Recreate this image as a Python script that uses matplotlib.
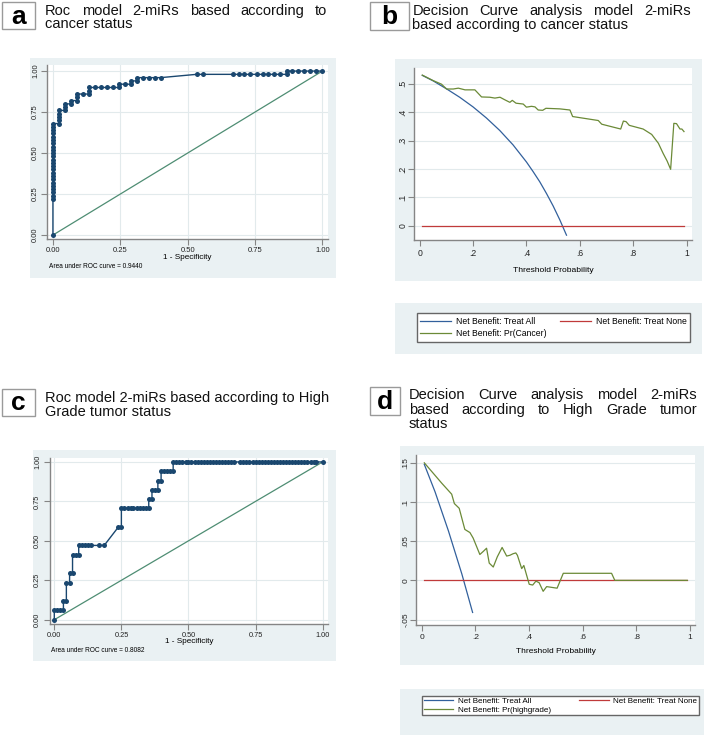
import matplotlib.pyplot as plt
from matplotlib.patches import Rectangle

plt.rcParams['font.family'] = ['Liberation Sans', 'DejaVu Sans']

# ---- panel a: ROC, cancer status ----
roc_a_fpr = [0.0,
             0.0, 0.0, 0.0, 0.0, 0.0, 0.0, 0.0, 0.0, 0.0, 0.0, 0.0, 0.0,
             0.0, 0.0, 0.0, 0.0, 0.0, 0.0, 0.0, 0.0, 0.0, 0.0, 0.0, 0.0,
             0.022, 0.022, 0.022, 0.022, 0.022,
             0.044, 0.044, 0.044,
             0.067, 0.067,
             0.089, 0.089, 0.089,
             0.111,
             0.133, 0.133, 0.133,
             0.156, 0.178, 0.200, 0.222,
             0.244, 0.244, 0.267, 0.289, 0.289, 0.311, 0.311,
             0.333, 0.356, 0.378, 0.400,
             0.533, 0.556,
             0.667, 0.689, 0.711, 0.733, 0.756, 0.778, 0.800, 0.822, 0.844, 0.867,
             0.867, 0.889, 0.911, 0.933, 0.956, 0.978, 1.0]
roc_a_tpr = [0.0,
             0.22, 0.24, 0.26, 0.28, 0.30, 0.32, 0.34, 0.36, 0.38, 0.40, 0.42, 0.44,
             0.46, 0.48, 0.50, 0.52, 0.54, 0.56, 0.58, 0.60, 0.62, 0.64, 0.66, 0.68,
             0.68, 0.70, 0.72, 0.74, 0.76,
             0.76, 0.78, 0.80,
             0.80, 0.82,
             0.82, 0.84, 0.86,
             0.86,
             0.86, 0.88, 0.90,
             0.90, 0.90, 0.90, 0.90,
             0.90, 0.92, 0.92, 0.92, 0.94, 0.94, 0.96,
             0.96, 0.96, 0.96, 0.96,
             0.98, 0.98,
             0.98, 0.98, 0.98, 0.98, 0.98, 0.98, 0.98, 0.98, 0.98, 0.98,
             1.0, 1.0, 1.0, 1.0, 1.0, 1.0, 1.0]
auc_a = "0.9440"

# ---- panel c: ROC, high grade ----
roc_c_fpr = [0.0,
             0.0, 0.011, 0.023, 0.034,
             0.034, 0.045,
             0.045, 0.057,
             0.057, 0.068,
             0.068, 0.080, 0.091,
             0.091, 0.102, 0.114, 0.125, 0.136, 0.165, 0.186,
             0.239, 0.250,
             0.250, 0.261, 0.273, 0.284, 0.295, 0.307, 0.318, 0.330, 0.341, 0.352,
             0.352, 0.364,
             0.364, 0.375, 0.386,
             0.386, 0.398,
             0.398, 0.409, 0.420, 0.432, 0.443,
             0.443, 0.455, 0.466, 0.477, 0.489, 0.500, 0.511, 0.523, 0.534, 0.545,
             0.557, 0.568, 0.580, 0.591, 0.602, 0.614, 0.625, 0.636, 0.648, 0.659,
             0.670, 0.693, 0.705, 0.716, 0.727, 0.739, 0.750, 0.761, 0.773, 0.784,
             0.795, 0.807, 0.818, 0.830, 0.841, 0.852, 0.864, 0.875, 0.886, 0.898,
             0.909, 0.920, 0.932, 0.943, 0.955, 0.966, 0.977, 1.0]
roc_c_tpr = [0.0,
             0.059, 0.059, 0.059, 0.059,
             0.118, 0.118,
             0.235, 0.235,
             0.294, 0.294,
             0.412, 0.412, 0.412,
             0.471, 0.471, 0.471, 0.471, 0.471, 0.471, 0.471,
             0.588, 0.588,
             0.706, 0.706, 0.706, 0.706, 0.706, 0.706, 0.706, 0.706, 0.706, 0.706,
             0.765, 0.765,
             0.824, 0.824, 0.824,
             0.882, 0.882,
             0.941, 0.941, 0.941, 0.941, 0.941,
             1.0, 1.0, 1.0, 1.0, 1.0, 1.0, 1.0, 1.0, 1.0, 1.0,
             1.0, 1.0, 1.0, 1.0, 1.0, 1.0, 1.0, 1.0, 1.0, 1.0,
             1.0, 1.0, 1.0, 1.0, 1.0, 1.0, 1.0, 1.0, 1.0, 1.0,
             1.0, 1.0, 1.0, 1.0, 1.0, 1.0, 1.0, 1.0, 1.0, 1.0,
             1.0, 1.0, 1.0, 1.0, 1.0, 1.0, 1.0, 1.0]
auc_c = "0.8082"

# ---- panel b: decision curve, cancer ----
b_all_pt = [0.01, 0.05, 0.10, 0.15, 0.20, 0.25, 0.30, 0.35, 0.40, 0.425, 0.45, 0.475, 0.50, 0.525, 0.55]
b_all_nb = [0.530, 0.511, 0.483, 0.453, 0.419, 0.380, 0.336, 0.285, 0.225, 0.191, 0.155, 0.114, 0.070, 0.021, -0.033]
b_none_pt = [0.01, 0.99]
b_none_nb = [0.0, 0.0]
b_mod_pt = [0.01, 0.05, 0.082, 0.101, 0.126, 0.145, 0.17, 0.207, 0.232, 0.263,
            0.282, 0.301, 0.319, 0.338, 0.347, 0.361, 0.388, 0.40, 0.419, 0.432,
            0.444, 0.461, 0.473, 0.525, 0.563, 0.573, 0.669, 0.682, 0.753, 0.763,
            0.773, 0.785, 0.837, 0.869, 0.894, 0.912, 0.927, 0.94, 0.952, 0.962,
            0.975, 0.982, 0.99]
b_mod_nb = [0.531, 0.512, 0.499, 0.482, 0.482, 0.485, 0.479, 0.479, 0.454, 0.453,
            0.450, 0.453, 0.444, 0.435, 0.442, 0.432, 0.429, 0.418, 0.421, 0.419,
            0.408, 0.407, 0.414, 0.412, 0.408, 0.385, 0.371, 0.358, 0.341, 0.369,
            0.367, 0.354, 0.341, 0.322, 0.291, 0.255, 0.228, 0.199, 0.361, 0.360,
            0.341, 0.341, 0.332]

# ---- panel d: decision curve, high grade ----
d_all_pt = [0.01, 0.05, 0.10, 0.15, 0.19]
d_all_nb = [0.148, 0.113, 0.063, 0.008, -0.041]
d_none_pt = [0.01, 0.99]
d_none_nb = [0.0, 0.0]
d_mod_pt = [0.01, 0.075, 0.112, 0.122, 0.14, 0.161, 0.18, 0.192, 0.217, 0.23,
            0.242, 0.252, 0.267, 0.282, 0.30, 0.317, 0.329, 0.341, 0.351, 0.357,
            0.373, 0.381, 0.401, 0.414, 0.426, 0.438, 0.453, 0.466, 0.505, 0.528,
            0.708, 0.72, 0.99]
d_mod_nb = [0.150, 0.124, 0.110, 0.098, 0.092, 0.065, 0.061, 0.054, 0.033, 0.037,
            0.041, 0.022, 0.017, 0.030, 0.042, 0.031, 0.032, 0.034, 0.035, 0.032,
            0.015, 0.019, -0.005, -0.006, -0.001, -0.003, -0.014, -0.008, -0.010, 0.009,
            0.009, 0.0, 0.0]

roc_ticks = [0, 0.25, 0.5, 0.75, 1]
roc_labels = ["0.00", "0.25", "0.50", "0.75", "1.00"]
dca_xticks = [0, 0.2, 0.4, 0.6, 0.8, 1]
dca_xlabels = ["0", ".2", ".4", ".6", ".8", "1"]
b_yticks = [0, 0.1, 0.2, 0.3, 0.4, 0.5]
b_ylabels = ["0", ".1", ".2", ".3", ".4", ".5"]
d_yticks = [-0.05, 0, 0.05, 0.1, 0.15]
d_ylabels = ["-.05", "0", ".05", ".1", ".15"]

NAVY = '#1a476f'
BLUE = '#32609c'
RED = '#c03a3a'
GREEN = '#6b8a37'
REF = '#4e8d73'
BG = '#eaf1f3'
GRID = '#e2eaec'
AXC = '#858585'
TSIZE = 10.5

W, H = 709, 743
fig = plt.figure(figsize=(W / 100, H / 100), dpi=100)
renderer = fig.canvas.get_renderer()


def rect(x0, y0, x1, y1):
    return [x0 / W, 1 - y1 / H, (x1 - x0) / W, (y1 - y0) / H]


def region(x0, y0, x1, y1, fc=BG, ec='none', lw=0):
    r = rect(x0, y0, x1, y1)
    fig.add_artist(Rectangle((r[0], r[1]), r[2], r[3], transform=fig.transFigure,
                             fc=fc, ec=ec, lw=lw, zorder=-1))


def tag(letter, x0, y0, x1, y1):
    region(x0, y0, x1, y1, fc='white', ec='#9a9a9a', lw=1.0)
    fig.text((x0 + x1) / 2 / W, 1 - ((y0 + y1) / 2 + 1) / H, letter, ha='center', va='center',
             fontsize=19, fontweight='bold')


def line(text, x0, y):
    fig.text(x0 / W, 1 - y / H, text, ha='left', va='baseline', fontsize=TSIZE, color='#111111')


def justified(text, x0, x1, y):
    # spread the words so the line fills x0..x1, as in the original titles
    ts = [fig.text(0, 1 - y / H, w, ha='left', va='baseline', fontsize=TSIZE, color='#111111')
          for w in text.split()]
    widths = [t.get_window_extent(renderer).width for t in ts]
    gap = (x1 - x0 - sum(widths)) / (len(ts) - 1)
    x = x0
    for t, w in zip(ts, widths):
        t.set_x(x / W)
        x += w + gap


def style(ax, xlim, ylim, xt, xl, yt, yl, fs, grid_axis, xpad, ypad):
    ax.set_xlim(xlim)
    ax.set_ylim(ylim)
    for s in ['top', 'right']:
        ax.spines[s].set_visible(False)
    for s in ['left', 'bottom']:
        ax.spines[s].set_color(AXC)
        ax.spines[s].set_linewidth(1.0)
    ax.set_xticks(xt)
    ax.set_xticklabels(xl)
    ax.set_yticks(yt)
    ax.set_yticklabels(yl, rotation=90, va='center')
    ax.tick_params(length=4, width=0.8, color=AXC, labelsize=fs, labelcolor='#222222')
    ax.tick_params(axis='x', pad=xpad)
    ax.tick_params(axis='y', pad=ypad)
    ax.grid(axis=grid_axis, color=GRID, lw=0.8)
    ax.set_axisbelow(True)


# ---------- panel a ----------
region(30, 58, 336, 278)
tag('a', 2, 2, 35, 29)
justified("Roc model 2-miRs based according to", 45, 327, 15)
line("cancer status", 45, 28.5)
ax_a = fig.add_axes(rect(47, 65, 328, 239))
ax_a.plot([0, 1], [0, 1], color=REF, lw=0.9)
ax_a.plot(roc_a_fpr, roc_a_tpr, color=NAVY, lw=1.0, marker='o', ms=3.6, mec='none')
style(ax_a, (-0.022, 1.021), (-0.024, 1.037), roc_ticks, roc_labels, roc_ticks, roc_labels,
      5.5, 'both', 1.5, 1.6)
ax_a.set_xlabel('1 - Specificity', fontsize=5.9, labelpad=0)
fig.text(49.3 / W, 1 - 266.7 / H, 'Area under ROC curve = ' + auc_a, fontsize=4.7, va='center')

# ---------- panel b ----------
region(395, 59, 702, 281)
tag('b', 370, 2, 409, 30)
justified("Decision Curve analysis model 2-miRs", 412.3, 690.7, 15)
line("based according to cancer status", 412.3, 28.5)
ax_b = fig.add_axes(rect(414, 68, 692, 240))
l_all, = ax_b.plot(b_all_pt, b_all_nb, color=BLUE, lw=0.9, label='Net Benefit: Treat All')
l_none, = ax_b.plot(b_none_pt, b_none_nb, color=RED, lw=0.9, label='Net Benefit: Treat None')
l_mod, = ax_b.plot(b_mod_pt, b_mod_nb, color=GREEN, lw=0.9, label='Net Benefit: Pr(Cancer)')
style(ax_b, (-0.021, 1.02), (-0.050, 0.556), dca_xticks, dca_xlabels, b_yticks, b_ylabels,
      6.2, 'y', 2.5, 0.8)
ax_b.set_xlabel('Threshold Probability', fontsize=6.1, labelpad=6.5)
region(395, 303, 702, 354)
fig.legend([l_all, l_mod, l_none], [l_all.get_label(), l_mod.get_label(), l_none.get_label()],
           ncol=2, loc='center', mode='expand', bbox_to_anchor=rect(417, 313, 690, 342),
           fontsize=6.2, frameon=True, fancybox=False, edgecolor='#666666', framealpha=1,
           handlelength=3.5, handletextpad=0.6, labelspacing=0.45, borderpad=0.4,
           borderaxespad=0)

# ---------- panel c ----------
region(33, 450, 336, 661)
tag('c', 2, 389, 35, 416)
line("Roc model 2-miRs based according to High", 45, 402)
line("Grade tumor status", 45, 416)
ax_c = fig.add_axes(rect(50, 458, 328, 624))
ax_c.plot([0, 1], [0, 1], color=REF, lw=0.9)
ax_c.plot(roc_c_fpr, roc_c_tpr, color=NAVY, lw=1.0, marker='o', ms=3.6, mec='none')
style(ax_c, (-0.016, 1.02), (-0.027, 1.025), roc_ticks, roc_labels, roc_ticks, roc_labels,
      5.3, 'both', 1.5, 2.5)
ax_c.set_xlabel('1 - Specificity', fontsize=5.9, labelpad=-0.5)
fig.text(51 / W, 1 - 650 / H, 'Area under ROC curve = ' + auc_c, fontsize=4.7, va='center')

# ---------- panel d ----------
region(400, 446, 704, 665)
tag('d', 370, 387, 400, 415)
justified("Decision Curve analysis model 2-miRs", 409, 697, 399.3)
justified("based according to High Grade tumor", 409, 697, 413.7)
line("status", 409, 428.5)
ax_d = fig.add_axes(rect(416, 455, 695, 625))
m_all, = ax_d.plot(d_all_pt, d_all_nb, color=BLUE, lw=0.9, label='Net Benefit: Treat All')
m_none, = ax_d.plot(d_none_pt, d_none_nb, color=RED, lw=0.9, label='Net Benefit: Treat None')
m_mod, = ax_d.plot(d_mod_pt, d_mod_nb, color=GREEN, lw=0.9, label='Net Benefit: Pr(highgrade)')
style(ax_d, (-0.021, 1.019), (-0.057, 0.160), dca_xticks, dca_xlabels, d_yticks, d_ylabels,
      6.0, 'y', 2.5, 0.8)
ax_d.set_xlabel('Threshold Probability', fontsize=6.0, labelpad=5)
region(400, 689, 704, 735)
fig.legend([m_all, m_mod, m_none], [m_all.get_label(), m_mod.get_label(), m_none.get_label()],
           ncol=2, loc='center', mode='expand', bbox_to_anchor=rect(422, 695, 699, 716),
           fontsize=5.8, frameon=True, fancybox=False, edgecolor='#666666', framealpha=1,
           handlelength=3.7, handletextpad=0.6, labelspacing=0.1, borderpad=0.2,
           borderaxespad=0)

fig.savefig('out.png', dpi=100)
